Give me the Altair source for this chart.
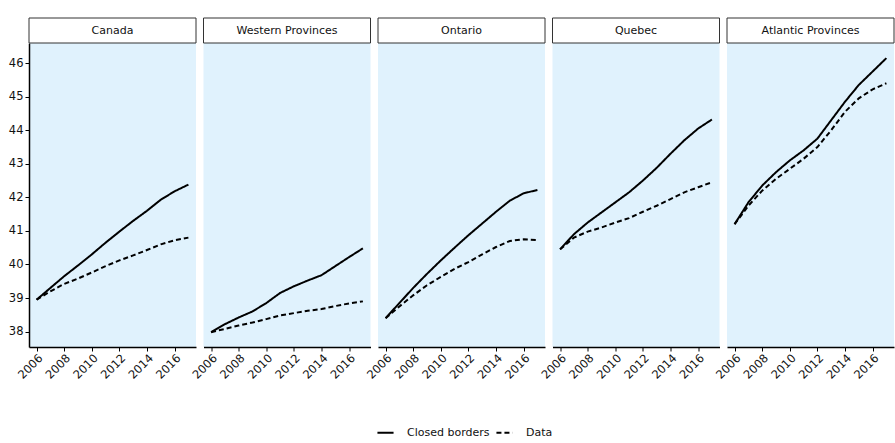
import altair as alt
import pandas as pd

years = list(range(2006, 2018))
regions = ["Canada", "Western Provinces", "Ontario", "Quebec", "Atlantic Provinces"]

closed_canada = [38.95, 39.30, 39.65, 39.97, 40.30, 40.65, 40.98, 41.30, 41.60, 41.93, 42.18, 42.38]
data_canada = [38.95, 39.20, 39.42, 39.58, 39.76, 39.95, 40.12, 40.27, 40.43, 40.60, 40.72, 40.80]

closed_western = [37.98, 38.22, 38.42, 38.60, 38.85, 39.15, 39.35, 39.52, 39.68, 39.95, 40.22, 40.48]
data_western = [37.98, 38.08, 38.18, 38.27, 38.37, 38.48, 38.55, 38.62, 38.67, 38.76, 38.84, 38.90]

closed_ontario = [38.40, 38.85, 39.30, 39.72, 40.12, 40.50, 40.87, 41.22, 41.57, 41.90, 42.12, 42.22]
data_ontario = [38.40, 38.75, 39.08, 39.38, 39.63, 39.87, 40.07, 40.30, 40.52, 40.70, 40.75, 40.73]

closed_quebec = [40.45, 40.90, 41.25, 41.55, 41.85, 42.15, 42.50, 42.88, 43.30, 43.70, 44.05, 44.32]
data_quebec = [40.45, 40.80, 40.98, 41.10, 41.25, 41.38, 41.57, 41.75, 41.95, 42.15, 42.30, 42.45]

closed_atlantic = [41.20, 41.85, 42.35, 42.75, 43.10, 43.40, 43.75, 44.30, 44.85, 45.35, 45.75, 46.15]
data_atlantic = [41.20, 41.75, 42.20, 42.55, 42.85, 43.15, 43.50, 44.00, 44.55, 44.95, 45.22, 45.40]

series = {
    "Canada": (closed_canada, data_canada),
    "Western Provinces": (closed_western, data_western),
    "Ontario": (closed_ontario, data_ontario),
    "Quebec": (closed_quebec, data_quebec),
    "Atlantic Provinces": (closed_atlantic, data_atlantic),
}

x_ticks = [2006, 2008, 2010, 2012, 2014, 2016]
y_ticks = [38, 39, 40, 41, 42, 43, 44, 45, 46]

rows = []
for reg in regions:
    closed, obs = series[reg]
    for yr, c, d in zip(years, closed, obs):
        rows.append({"region": reg, "year": yr, "scenario": "Closed borders", "age": c})
        rows.append({"region": reg, "year": yr, "scenario": "Data", "age": d})
df = pd.DataFrame(rows)

FONT = "DejaVu Sans"
W, H, STRIP = 167, 304, 25

x_scale = alt.Scale(domain=[2005.45, 2017.55], nice=False, zero=False)
y_scale = alt.Scale(domain=[37.54, 46.6], nice=False, zero=False)
dash_scale = alt.Scale(domain=["Closed borders", "Data"], range=[[1, 0], [5, 3]])


def panel(reg, first):
    sub = df[df.region == reg]
    y_axis = alt.Axis(
        values=y_ticks, grid=False, domain=True, domainColor="black", domainWidth=1.5,
        ticks=True, tickColor="black", tickSize=4, labelFontSize=11.5, labelColor="#111",
        labelFont=FONT, title=None, labelPadding=2, labelOverlap=False,
    ) if first else None
    lines = alt.Chart(sub).mark_line(color="black", strokeWidth=2).encode(
        x=alt.X("year:Q", scale=x_scale, axis=alt.Axis(
            values=x_ticks, format="d", grid=False, labelAngle=-45, labelAlign="right",
            labelBaseline="top", domainColor="black", domainWidth=1.5, tickColor="black",
            tickSize=4, labelFontSize=11.5, labelColor="#111", labelFont=FONT, title=None,
            labelPadding=1, labelOverlap=False,
        )),
        y=alt.Y("age:Q", scale=y_scale, axis=y_axis),
        strokeDash=alt.StrokeDash("scenario:N", scale=dash_scale, legend=alt.Legend(
            title=None, orient="none", direction="horizontal", legendX=347, legendY=380,
            symbolType="stroke", symbolStrokeWidth=2, symbolSize=260, symbolStrokeColor="black",
            labelFont=FONT, labelFontSize=11, labelColor="#111", labelOffset=12,
            columnPadding=2,
        )),
        detail="scenario:N",
    )
    strip_box = alt.Chart(pd.DataFrame({"region": [reg]})).mark_rect(
        fill="white", stroke="#333", strokeWidth=1, clip=False
    ).encode(
        x=alt.value(0), x2=alt.value(W), y=alt.value(-STRIP), y2=alt.value(0)
    )
    strip_text = alt.Chart(pd.DataFrame({"region": [reg]})).mark_text(
        font=FONT, fontSize=11, color="#111", baseline="middle", clip=False
    ).encode(
        x=alt.value(W / 2), y=alt.value(-STRIP / 2), text="region:N"
    )
    return alt.layer(lines, strip_box, strip_text).properties(width=W, height=H)


chart = alt.hconcat(
    *[panel(r, i == 0) for i, r in enumerate(regions)], spacing=7.5, bounds="flush"
).configure_view(
    fill="#e0f2fd", stroke=None
).properties(
    background="white",
    padding={"left": 8, "top": 17, "right": 0, "bottom": 0},
)

chart.save("out.html", embed_options={"renderer": "svg", "actions": False})
